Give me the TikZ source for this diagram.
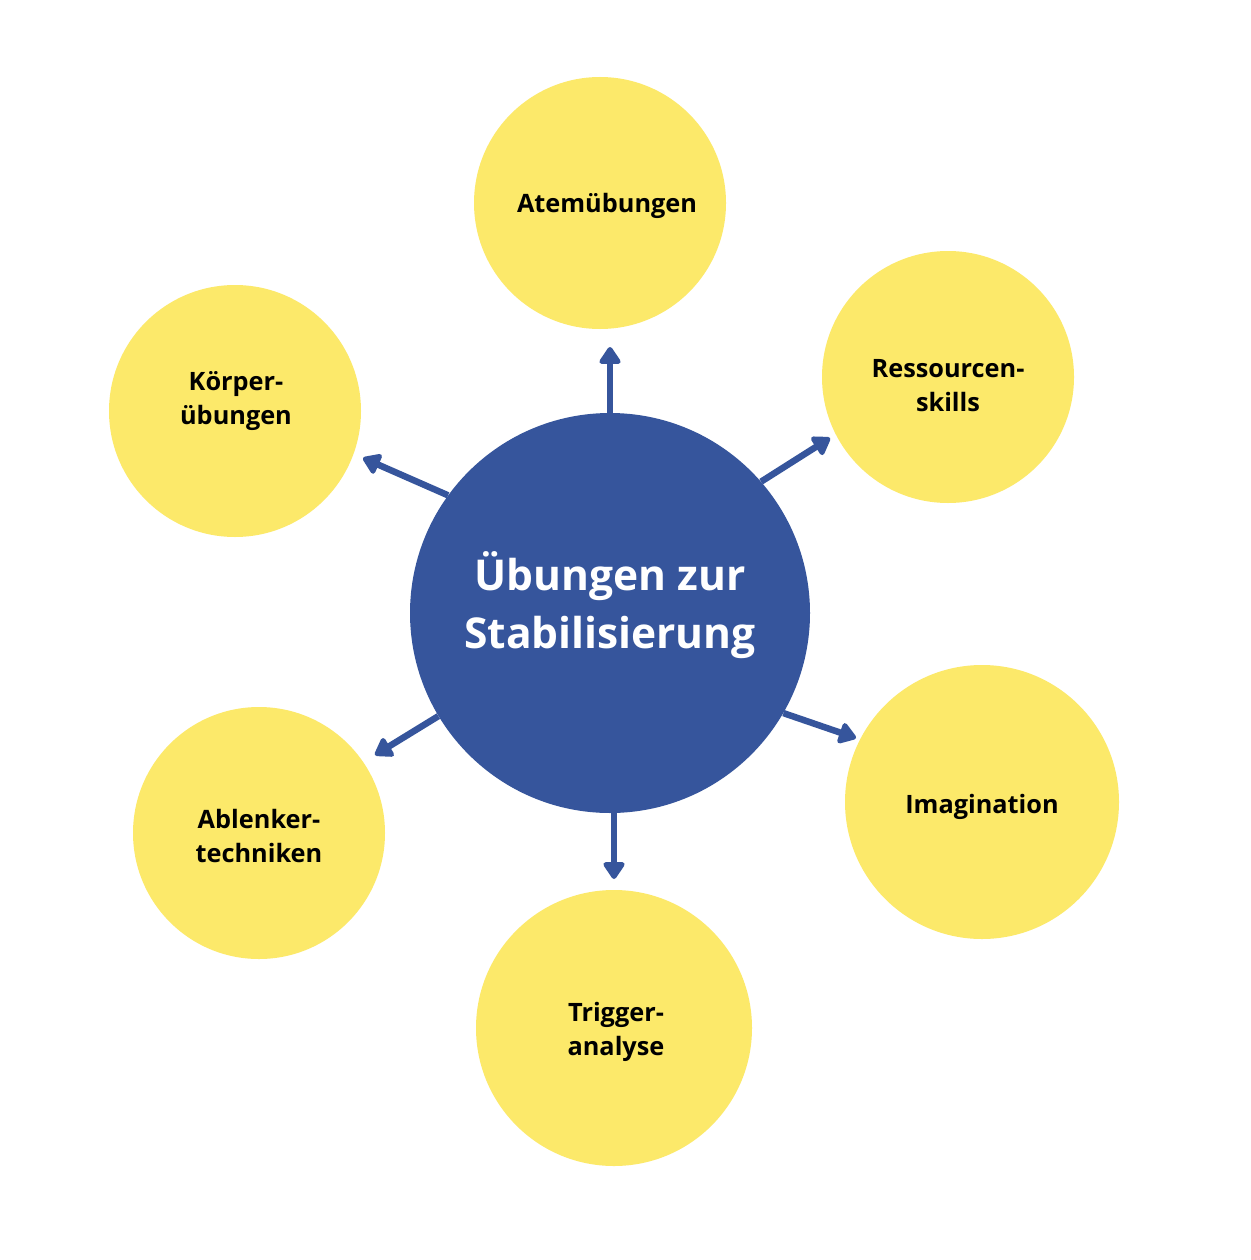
\documentclass[tikz,border=0pt]{standalone}
\usepackage{fontspec}
\setmainfont{Open Sans}
\usetikzlibrary{arrows.meta}
\definecolor{cblue}{HTML}{36559C}
\definecolor{cyellow}{HTML}{FCE96A}
\tikzset{
  ycirc/.style={circle, fill=cyellow, draw=none, inner sep=0pt, minimum size=#1},
  bcirc/.style={circle, fill=cblue, draw=none, inner sep=0pt, minimum size=400pt},
  ylabel/.style={align=center, font=\fontsize{25.3}{34}\selectfont\bfseries, text=black},
  blabel/.style={align=center, font=\fontsize{42.5}{58}\selectfont\bfseries, text=white},
  conn/.style={draw=cblue, line width=6.5pt, -{Triangle[length=19pt,width=24pt,round]}},
}
\begin{document}
\begin{tikzpicture}[x=1pt,y=-1pt]
\useasboundingbox[fill=white] (0,0) rectangle (1250,1260);
% outer circles
\node[ycirc=252pt] (atem) at (600,203) {};
\node[ycirc=252pt] (ress) at (948,377) {};
\node[ycirc=252pt] (koerper) at (235,411) {};
\node[ycirc=274pt] (imag) at (982,802) {};
\node[ycirc=252pt] (ablenk) at (259,833) {};
\node[ycirc=276pt] (trigger) at (614,1028) {};
% labels
\node[ylabel] (atemt) at (607,206) {Atemübungen};
\node[ylabel] (resst) at (948,386) {Ressourcen-\\skills};
\node[ylabel] (koerpert) at (236,401) {Körper-\\übungen};
\node[ylabel] (imagt) at (982,807) {Imagination};
\node[ylabel] (ablenkt) at (259,836) {Ablenker-\\techniken};
\node[ylabel] (triggert) at (616,1032) {Trigger-\\analyse};
% center
\node[bcirc] (center) at (610,613) {};
\node[blabel] (centert) at (610,605) {Übungen zur\\Stabilisierung};
% arrow tips
\coordinate (tatem) at (610,347);
\coordinate (tress) at (830,438);
\coordinate (tkoerper) at (363,458);
\coordinate (timag) at (856,738);
\coordinate (tablenk) at (375,755);
\coordinate (ttrigger) at (614,879);
% connectors
\draw[conn] (center.north -| tatem) -- (tatem);
\draw[conn] (center.41) -- (tress);
\draw[conn] (center.144) -- (tkoerper);
\draw[conn] (center.-30) -- (timag);
\draw[conn] (center.-149) -- (tablenk);
\draw[conn] (center.south -| ttrigger) -- (ttrigger);
\end{tikzpicture}
\end{document}
